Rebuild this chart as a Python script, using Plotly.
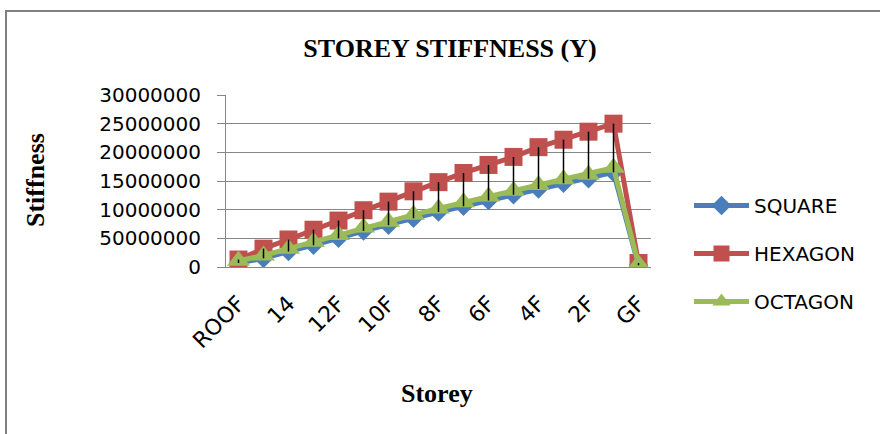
import plotly.graph_objects as go

# Storey levels from roof down to ground floor
storeys = ["ROOF", "15", "14", "13", "12F", "11F", "10F", "9F", "8F",
           "7F", "6F", "5F", "4F", "3F", "2F", "1F", "GF"]
shown_storeys = ["ROOF", "14", "12F", "10F", "8F", "6F", "4F", "2F", "GF"]

# Storey stiffness in Y direction for each plan shape
square = [700000, 1500000, 2700000, 3800000, 5000000, 6300000, 7300000, 8500000,
          9600000, 10600000, 11600000, 12600000, 13600000, 14600000, 15400000,
          16500000, 300000]
hexagon = [1300000, 3200000, 4800000, 6500000, 8100000, 9900000, 11400000, 13200000,
           14800000, 16400000, 17800000, 19200000, 20900000, 22200000, 23600000,
           25000000, 700000]
octagon = [1100000, 2000000, 3200000, 4400000, 5600000, 6900000, 7900000, 9100000,
           10200000, 11300000, 12300000, 13300000, 14300000, 15300000, 16100000,
           17300000, 500000]

y_tickvals = [0, 5000000, 10000000, 15000000, 20000000, 25000000, 30000000]
y_ticktext = ["0", "50000000", "10000000", "15000000", "20000000", "25000000", "30000000"]

W, H = 880, 434
L, R, T, B = 226, 229, 95, 167
PW, PH = W - L - R, H - T - B


def px_x(p):
    return (p - L) / PW


def px_y(p):
    return (H - B - p) / PH


SANS = "DejaVu Sans"
SERIF = "Liberation Serif"

fig = go.Figure()

series = [
    ("SQUARE", square, "#4A7EBB", "diamond", 15),
    ("HEXAGON", hexagon, "#C0504D", "square", 18),
    ("OCTAGON", octagon, "#9BBB59", "triangle-up", 20),
]
for name, vals, color, symbol, size in series:
    fig.add_trace(go.Scatter(
        x=storeys, y=vals, name=name, mode="lines+markers",
        line=dict(color=color, width=5),
        marker=dict(symbol=symbol, size=size, color=color, line=dict(width=0)),
        legendgroup=name,
    ))

# High-low lines joining the largest and smallest value at each storey
hl_x, hl_y = [], []
for i, s in enumerate(storeys):
    vals = [square[i], hexagon[i], octagon[i]]
    hl_x += [s, s, None]
    hl_y += [max(vals), min(vals), None]
fig.add_trace(go.Scatter(
    x=hl_x, y=hl_y, mode="lines", showlegend=False, hoverinfo="skip",
    line=dict(color="black", width=1.5),
))

fig.update_layout(
    width=W, height=H,
    margin=dict(l=L, r=R, t=T, b=B),
    paper_bgcolor="white", plot_bgcolor="white",
    title=dict(text="<b>STOREY STIFFNESS (Y)</b>", font=dict(family=SERIF, size=26, color="black"),
               x=450 / W, xanchor="center", xref="container",
               y=1 - 48 / H, yanchor="middle", yref="container"),
    legend=dict(x=px_x(689), y=px_y(186), xanchor="left", yanchor="top",
                font=dict(family=SANS, size=20, color="black"),
                tracegroupgap=19, itemwidth=55, bgcolor="rgba(0,0,0,0)"),
    showlegend=True,
)

fig.update_xaxes(
    type="category", categoryorder="array", categoryarray=storeys,
    range=[-0.5, len(storeys) - 0.5],
    tickmode="array", tickvals=shown_storeys, ticktext=shown_storeys,
    tickangle=-45, tickfont=dict(family=SANS, size=22, color="black"),
    showgrid=False, showline=True, linecolor="#868686", linewidth=1,
    ticks="", automargin=False, ticklabelstandoff=14,
)
fig.update_yaxes(
    range=[0, 30000000], tickmode="array", tickvals=y_tickvals, ticktext=y_ticktext,
    tickfont=dict(family=SANS, size=20, color="black"),
    showgrid=True, gridcolor="#868686", gridwidth=1,
    showline=True, linecolor="#868686", linewidth=1,
    ticks="outside", ticklen=8, tickcolor="#868686",
    zeroline=False, automargin=False, ticklabelstandoff=12,
)

fig.add_annotation(text="<b>Stiffness</b>", textangle=-90, xref="paper", yref="paper",
                   x=px_x(35), y=px_y(180), xanchor="center", yanchor="middle", showarrow=False,
                   font=dict(family=SERIF, size=26, color="black"))
fig.add_annotation(text="<b>Storey</b>", xref="paper", yref="paper",
                   x=px_x(437), y=px_y(393), xanchor="center", yanchor="middle", showarrow=False,
                   font=dict(family=SERIF, size=26, color="black"))

# Chart-area border
fig.add_shape(type="rect", xref="paper", yref="paper",
              x0=px_x(6), x1=px_x(890), y0=px_y(445), y1=px_y(11),
              line=dict(color="#808080", width=2), fillcolor="rgba(0,0,0,0)", layer="below")

fig.write_html("out.html")
